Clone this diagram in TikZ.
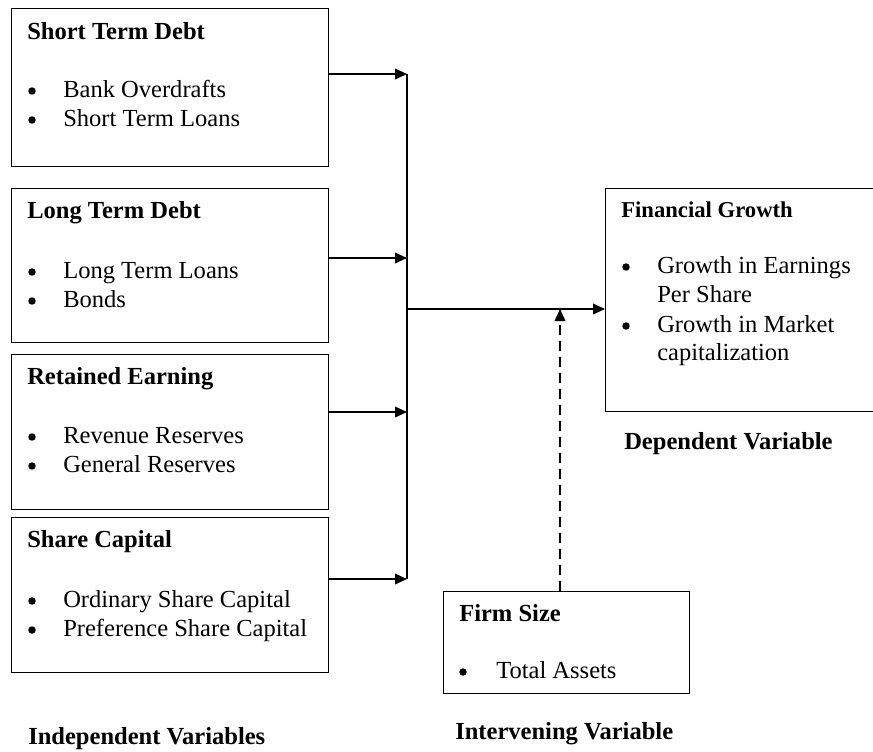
\documentclass[tikz,border=0pt]{standalone}
\usepackage{fontspec}
\setmainfont{Liberation Serif}
\usetikzlibrary{arrows.meta}
\begin{document}
\begin{tikzpicture}[x=0.75pt,y=-0.75pt,
  box/.style={draw, line width=1.1pt, inner sep=0pt, anchor=north west},
  ttl/.style={anchor=base west, inner sep=0pt, font=\fontsize{18.4}{22}\selectfont\bfseries},
  ttlsm/.style={anchor=base west, inner sep=0pt, font=\fontsize{17}{20}\selectfont\bfseries},
  itm/.style={anchor=base west, inner sep=0pt, font=\fontsize{18.4}{22}\selectfont},
  dot/.style={circle, fill=black, inner sep=0pt, minimum size=5.6pt},
  arr/.style={line width=1.1pt, -{Triangle[length=9pt,width=8pt]}},
  darr/.style={line width=1.1pt, dash pattern=on 7.5pt off 4.5pt, -{Triangle[length=9pt,width=8pt]}},
  ln/.style={line width=1.1pt}]
\useasboundingbox (0,0) rectangle (873,751);
\fill[white] (0,0) rectangle (873,751);

% boxes
\node[box, minimum width=237.75pt, minimum height=118.5pt] (sd) at (11,8) {};
\node[box, minimum width=237.75pt, minimum height=115.5pt] (ld) at (11,188) {};
\node[box, minimum width=237.75pt, minimum height=116.25pt] (re) at (11,354) {};
\node[box, minimum width=237.75pt, minimum height=116.25pt] (sc) at (11,517) {};
\node[box, minimum width=206.25pt, minimum height=167.25pt] (fg) at (605,188) {};
\node[box, minimum width=184.5pt, minimum height=76.5pt] (fs) at (443,591) {};

% short term debt
\node[ttl] (sdt) at (27,39) {Short Term Debt};
\node[dot] (sd1d) at (32,91) {};
\node[itm] (sd1) at (63,97) {Bank Overdrafts};
\node[dot] (sd2d) at (32,120) {};
\node[itm] (sd2) at (63,126) {Short Term Loans};
% long term debt
\node[ttl] (ldt) at (27,218) {Long Term Debt};
\node[dot] (ld1d) at (32,272) {};
\node[itm] (ld1) at (63,278) {Long Term Loans};
\node[dot] (ld2d) at (32,301) {};
\node[itm] (ld2) at (63,307) {Bonds};
% retained earning
\node[ttl] (ret) at (27,384) {Retained Earning};
\node[dot] (re1d) at (32,437) {};
\node[itm] (re1) at (63,443) {Revenue Reserves};
\node[dot] (re2d) at (32,466) {};
\node[itm] (re2) at (63,472) {General Reserves};
% share capital
\node[ttl] (sct) at (27,547) {Share Capital};
\node[dot] (sc1d) at (32,601) {};
\node[itm] (sc1) at (63,607) {Ordinary Share Capital};
\node[dot] (sc2d) at (32,630) {};
\node[itm] (sc2) at (63,636) {Preference Share Capital};
% financial growth
\node[ttlsm] (fgt) at (621,217) {Financial Growth};
\node[dot] (fg1d) at (626,267) {};
\node[itm] (fg1) at (657,273) {Growth in Earnings};
\node[itm] (fg1b) at (657,302) {Per Share};
\node[dot] (fg2d) at (626,326) {};
\node[itm] (fg2) at (657,332) {Growth in Market};
\node[itm] (fg2b) at (657,360) {capitalization};
% firm size
\node[ttl] (fst) at (459,621) {Firm Size};
\node[dot] (fs1d) at (463,672) {};
\node[itm] (fs1) at (496,678) {Total Assets};

% captions
\node[ttl] (dep) at (624,449) {Dependent Variable};
\node[ttl] (ind) at (28,744) {Independent Variables};
\node[ttl] (inv) at (455,739) {Intervening Variable};

% connectors
\coordinate (j1) at (407,74);
\coordinate (j2) at (407,258);
\coordinate (j3) at (407,412);
\coordinate (j4) at (407,579);
\coordinate (jm) at (407,309);
\coordinate (hit) at (560,309);
\draw[arr] (sd.east |- j1) -- (j1);
\draw[arr] (ld.east |- j2) -- (j2);
\draw[arr] (re.east |- j3) -- (j3);
\draw[arr] (sc.east |- j4) -- (j4);
\draw[ln] (j1) -- (j4);
\draw[arr] (jm) -- (fg.west |- jm);
\draw[darr] (fs.north -| hit) -- (hit);
\end{tikzpicture}
\end{document}
